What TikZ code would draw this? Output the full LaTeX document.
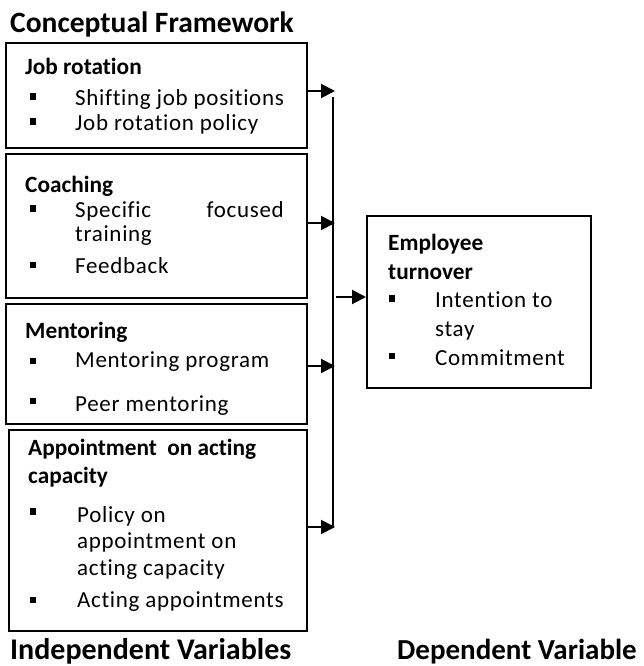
\documentclass[tikz,border=0pt]{standalone}
\usepackage{fontspec}
\setmainfont{Carlito}[Ligatures=NoCommon]
\usetikzlibrary{arrows.meta}
\newfontfamily\bodyfont[LetterSpace=3,Ligatures=NoCommon]{Carlito}
\begin{document}
\begin{tikzpicture}[x=1pt,y=-1pt,
  box/.style={draw=black,line width=1.8pt,rectangle,anchor=north west,inner sep=0pt},
  arr/.style={line width=2pt,-{Triangle[length=14pt,width=14pt]}},
  bus/.style={line width=2pt},
  bul/.style={fill=black,rectangle,inner sep=0pt,minimum size=6.5pt},
  title/.style={anchor=base west,inner sep=0pt,font=\fontsize{29.5}{32}\selectfont\bfseries},
  head/.style={anchor=base west,inner sep=0pt,font=\fontsize{23.3}{26}\selectfont\bfseries},
  body/.style={anchor=base west,inner sep=0pt,font=\fontsize{23}{26}\bodyfont}]
\useasboundingbox (0,0) rectangle (644,666);
\node[title] (tt) at (10,33) {Conceptual Framework};
% boxes
\node[box,minimum width=301pt,minimum height=105pt] (b1) at (5,42) {};
\node[box,minimum width=301pt,minimum height=144pt] (b2) at (5,153) {};
\node[box,minimum width=301pt,minimum height=120pt] (b3) at (5,303) {};
\node[box,minimum width=298pt,minimum height=201pt] (b4) at (8,429) {};
\node[box,minimum width=224pt,minimum height=172pt] (emp) at (366,215) {};
% box 1
\node[head] (h1) at (25,75) {Job rotation};
\node[bul] (q11) at (33,96.5) {};
\node[body] (t11) at (75,106) {Shifting job positions};
\node[bul] (q12) at (33,121.5) {};
\node[body] (t12) at (75,131) {Job rotation policy};
% box 2
\node[head] (h2) at (25,192) {Coaching};
\node[bul] (q21) at (33,208.5) {};
\node[body] (t21) at (75,217) {Specific};
\node[body,anchor=base east] (t21b) at (284,217) {focused};
\node[body] (t22) at (75,241) {training};
\node[bul] (q22) at (33,265) {};
\node[body] (t23) at (75,273) {Feedback};
% box 3
\node[head] (h3) at (25,338) {Mentoring};
\node[bul] (q31) at (33,361) {};
\node[body] (t31) at (75,367) {Mentoring program};
\node[bul] (q32) at (33,401) {};
\begin{scope}
\clip (5,303) rectangle (306,414);
\node[body] (t32) at (75,411.5) {Peer mentoring};
\end{scope}
% box 4
\node[head] (h4) at (28,455) {Appointment\hspace{5pt} on acting};
\node[head] (h4b) at (28,483) {capacity};
\node[bul] (q41) at (33,511.5) {};
\node[body] (t41) at (77,522) {Policy on};
\node[body] (t42) at (77,548) {appointment on};
\node[body] (t43) at (77,575) {acting capacity};
\node[bul] (q42) at (33,600) {};
\node[body] (t44) at (77,607) {Acting appointments};
% employee box
\node[head] (he) at (388,250) {Employee};
\node[head] (he2) at (388,279) {turnover};
\node[bul] (qe1) at (392,298.5) {};
\node[body] (te1) at (435,307) {Intention to};
\node[body] (te2) at (435,336) {stay};
\node[bul] (qe2) at (392,356) {};
\node[body] (te3) at (435,365) {Commitment};
% labels
\node[title,font=\fontsize{30}{32}\selectfont\bfseries] (iv) at (10,659) {Independent Variables};
\node[title,font=\fontsize{29}{32}\selectfont\bfseries] (dv) at (397,659) {Dependent Variable};
% connectors
\coordinate (p1) at (335,91);
\coordinate (p2) at (335,223);
\coordinate (p3) at (335,366);
\coordinate (p4) at (335,527);
\coordinate (bt) at (333,97);
\coordinate (bb) at (333,527);
\coordinate (j) at (336,297);
\draw[bus] (bt) -- (bb);
\draw[arr] (b1.east |- p1) -- (p1);
\draw[arr] (b2.east |- p2) -- (p2);
\draw[arr] (b3.east |- p3) -- (p3);
\draw[arr] (b4.east |- p4) -- (p4);
\draw[arr] (j) -- (emp.west |- j);
\end{tikzpicture}
\end{document}
